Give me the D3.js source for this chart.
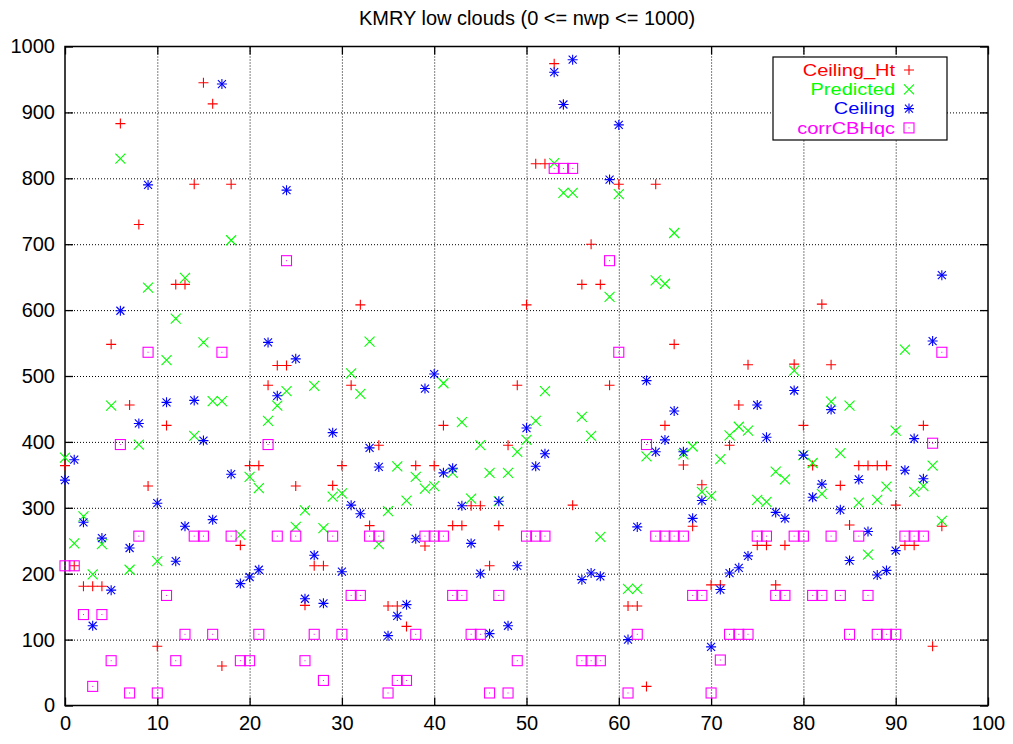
<!DOCTYPE html>
<html>
<head>
<meta charset="utf-8">
<script src="https://cdn.jsdelivr.net/npm/d3@7"></script>
<style>
  body { margin: 0; background: #fff; }
  svg { display: block; font-family: "Liberation Sans", Arial, sans-serif; }
</style>
</head>
<body>
<div id="chart"></div>
<script>
// values, index 0..95
const ceilingHt = [364, 212, 181, 181, 181, 548, 883, 456, 730, 333, 90, 425, 639, 639, 791, 945, 913, 60, 791, 243,
  364, 364, 486, 516, 516, 333, 152, 212, 212, 334, 364, 486, 608, 273, 395, 151, 151, 120, 364, 242,
  364, 425, 273, 273, 303, 303, 212, 273, 395, 486, 608, 822, 822, 974, 912, 304, 639, 700, 639, 486,
  791, 151, 151, 29, 791, 425, 548, 365, 272, 335, 183, 183, 395, 456, 517, 243, 243, 183, 243, 518,
  425, 364, 609, 517, 334, 274, 364, 364, 364, 364, 304, 243, 243, 425, 90, 272]
const predicted = [376, 246, 287, 199, 245, 455, 830, 206, 396, 634, 219, 524, 587, 649, 409, 551, 462, 462, 706, 259,
  347, 330, 432, 455, 477, 271, 296, 485, 269, 317, 322, 504, 473, 552, 245, 295, 363, 311, 347, 329,
  333, 489, 353, 430, 314, 395, 353, 310, 353, 385, 403, 432, 477, 823, 778, 778, 438, 409, 256, 620,
  776, 177, 177, 378, 645, 640, 717, 381, 393, 324, 318, 374, 410, 423, 417, 312, 309, 355, 343, 508,
  380, 368, 321, 461, 383, 455, 308, 229, 312, 332, 417, 540, 324, 333, 364, 280]
const ceiling = [342, 373, 278, 121, 254, 175, 599, 239, 428, 790, 307, 460, 219, 272, 463, 402, 282, 943, 351, 185,
  195, 206, 551, 470, 782, 526, 162, 228, 155, 414, 203, 304, 291, 391, 362, 106, 136, 153, 253, 481,
  503, 353, 360, 303, 246, 200, 109, 310, 121, 212, 421, 363, 382, 961, 912, 980, 191, 201, 196, 798,
  881, 100, 271, 493, 385, 403, 447, 385, 284, 311, 89, 176, 201, 209, 227, 456, 407, 293, 284, 478,
  380, 316, 336, 449, 297, 220, 343, 264, 198, 205, 235, 357, 405, 344, 553, 653]
const corrCBHqc = [212, 212, 138, 29, 138, 68, 396, 19, 257, 536, 19, 167, 68, 108, 257, 257, 108, 536, 257, 68,
  68, 108, 396, 257, 675, 257, 68, 108, 38, 257, 108, 167, 167, 257, 257, 19, 38, 38, 108, 257,
  257, 257, 167, 167, 108, 108, 19, 167, 19, 68, 257, 257, 257, 815, 815, 815, 68, 68, 68, 675,
  536, 19, 108, 396, 257, 257, 257, 257, 167, 167, 19, 69, 108, 108, 108, 257, 257, 167, 167, 257,
  257, 167, 167, 257, 167, 108, 257, 167, 108, 108, 108, 257, 257, 257, 398, 536]

const xTicks = [0, 10, 20, 30, 40, 50, 60, 70, 80, 90, 100]
const yTicks = [0, 100, 200, 300, 400, 500, 600, 700, 800, 900, 1000]

const series = [
  { name: 'Ceiling_Ht', values: ceilingHt, color: '#ff0000', shape: 'plus' },
  { name: 'Predicted', values: predicted, color: '#00ff00', shape: 'cross' },
  { name: 'Ceiling', values: ceiling, color: '#0000ff', shape: 'star' },
  { name: 'corrCBHqc', values: corrCBHqc, color: '#ff00ff', shape: 'box' },
]

const W = 1013, H = 744
const margin = { top: 46.5, right: 25, bottom: 38.5, left: 65 }
const width = W - margin.left - margin.right
const height = H - margin.top - margin.bottom
const fontSize = 20

const svg = d3.select('#chart').append('svg').attr('width', W).attr('height', H)
const g = svg.append('g').attr('transform', `translate(${margin.left},${margin.top})`)

const x = d3.scaleLinear().domain([0, 100]).range([0, width])
const y = d3.scaleLinear().domain([0, 1000]).range([height, 0])

// grid
g.append('g')
  .attr('transform', `translate(0,${height})`)
  .call(d3.axisBottom(x).tickValues(xTicks.slice(1, -1)).tickSize(-height).tickFormat(''))
  .call(a => a.select('.domain').remove())
  .selectAll('line').attr('stroke', '#000').attr('stroke-dasharray', '1,2').attr('stroke-width', 1)
g.append('g')
  .call(d3.axisLeft(y).tickValues(yTicks.slice(1, -1)).tickSize(-width).tickFormat(''))
  .call(a => a.select('.domain').remove())
  .selectAll('line').attr('stroke', '#000').attr('stroke-dasharray', '1,2').attr('stroke-width', 1)

// axes, ticks inward and mirrored
const axisFont = a => a.selectAll('text').attr('font-size', fontSize).attr('fill', '#000')
  .attr('font-family', '"Liberation Sans", Arial, sans-serif')
g.append('g')
  .call(d3.axisLeft(y).tickValues(yTicks).tickSize(-8).tickPadding(10).tickFormat(d3.format('d')))
  .call(a => a.select('.domain').remove())
  .call(axisFont)
g.append('g').attr('transform', `translate(${width},0)`)
  .call(d3.axisRight(y).tickValues(yTicks).tickSize(-8).tickFormat(''))
  .call(a => a.select('.domain').remove())
g.append('g').attr('transform', `translate(0,${height})`)
  .call(d3.axisBottom(x).tickValues(xTicks).tickSize(-8).tickPadding(10))
  .call(a => a.select('.domain').remove())
  .call(axisFont)
g.append('g')
  .call(d3.axisTop(x).tickValues(xTicks).tickSize(-8).tickFormat(''))
  .call(a => a.select('.domain').remove())
g.selectAll('.tick line').filter(function () { return !this.getAttribute('stroke-dasharray') })
  .attr('stroke', '#000').attr('stroke-width', 1.3)

g.append('rect').attr('width', width).attr('height', height)
  .attr('fill', 'none').attr('stroke', '#000').attr('stroke-width', 1.5)

// point shapes
const s = 5
function drawShape(sel, shape, color, cx, cy) {
  const p = sel.append('g').attr('transform', `translate(${cx},${cy})`)
    .attr('stroke', color).attr('fill', 'none').attr('stroke-width', 1.1)
  if (shape === 'plus' || shape === 'star') {
    p.append('path').attr('d', `M${-s},0H${s}M0,${-s}V${s}`)
  }
  if (shape === 'cross' || shape === 'star') {
    const d = shape === 'star' ? s * 0.8 : s
    p.append('path').attr('d', `M${-d},${-d}L${d},${d}M${-d},${d}L${d},${-d}`)
  }
  if (shape === 'box') {
    p.append('rect').attr('x', -s).attr('y', -s).attr('width', 2 * s).attr('height', 2 * s)
    p.append('rect').attr('x', -0.5).attr('y', -0.5).attr('width', 1).attr('height', 1)
      .attr('fill', color).attr('stroke', 'none')
  }
}

series.forEach(sr => {
  const layer = g.append('g')
  sr.values.forEach((v, i) => drawShape(layer, sr.shape, sr.color, x(i), y(v)))
})

// legend: rows are tight, so use a shorter font stretched to the reference width
const lg = svg.append('g').attr('transform', 'translate(773,57)')
lg.append('rect').attr('width', 174).attr('height', 83)
  .attr('fill', '#fff').attr('stroke', '#000').attr('stroke-width', 1.2)
series.forEach((sr, i) => {
  const ly = 13 + i * 19.3
  const t = lg.append('text').attr('x', 122).attr('y', ly).attr('dy', '0.35em')
    .attr('text-anchor', 'end').attr('font-size', fontSize).attr('fill', sr.color).text(sr.name)
  const w = t.node().getComputedTextLength()
  t.attr('font-size', 16).attr('textLength', w).attr('lengthAdjust', 'spacingAndGlyphs')
  drawShape(lg, sr.shape, sr.color, 136, ly)
})

// title
svg.append('text').attr('x', 527).attr('y', 25).attr('text-anchor', 'middle')
  .attr('font-size', fontSize).attr('fill', '#000').text('KMRY low clouds (0 <= nwp <= 1000)')
</script>
</body>
</html>
